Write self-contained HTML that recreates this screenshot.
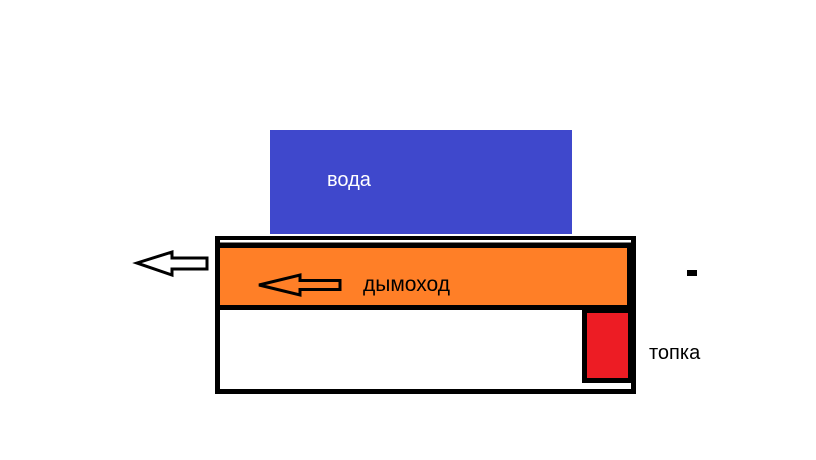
<!DOCTYPE html>
<html>
<head>
<meta charset="utf-8">
<style>
  html,body{margin:0;padding:0;background:#fff;}
  svg{display:block;}
  text{font-family:"Liberation Sans","DejaVu Sans",sans-serif;}
</style>
</head>
<body>
<svg width="816" height="460" viewBox="0 0 816 460" xmlns="http://www.w3.org/2000/svg">
  <rect x="0" y="0" width="816" height="460" fill="#fff"/>
  <!-- water -->
  <rect x="270" y="130" width="302" height="104" fill="#3f48cc"/>
  <text x="327" y="186" font-size="20" fill="#fff">вода</text>

  <!-- outer box -->
  <rect x="215" y="236" width="421" height="158" fill="#000"/>
  <rect x="220" y="240" width="411" height="2.5" fill="#fff"/>
  <rect x="220" y="248" width="407" height="57" fill="#ff7f27"/>
  <rect x="220" y="310" width="362" height="79" fill="#fff"/>
  <rect x="582" y="383" width="49" height="6" fill="#fff"/>
  <rect x="587" y="313" width="41" height="65" fill="#ed1c24"/>

  <!-- outer arrow -->
  <polygon points="137,263 172,252 172,258 207,258 207,269 172,269 172,275" fill="#fff" stroke="#000" stroke-width="3" stroke-linejoin="miter"/>
  <!-- inner arrow -->
  <polygon points="259,285 300,275 300,280.5 340,280.5 340,289.5 300,289.5 300,295" fill="none" stroke="#000" stroke-width="3"/>

  <text x="363" y="291" font-size="21" fill="#000">дымоход</text>

  <!-- dash -->
  <rect x="687" y="270" width="10" height="6" fill="#000"/>

  <text x="649" y="359" font-size="20" fill="#000">топка</text>
</svg>
</body>
</html>
